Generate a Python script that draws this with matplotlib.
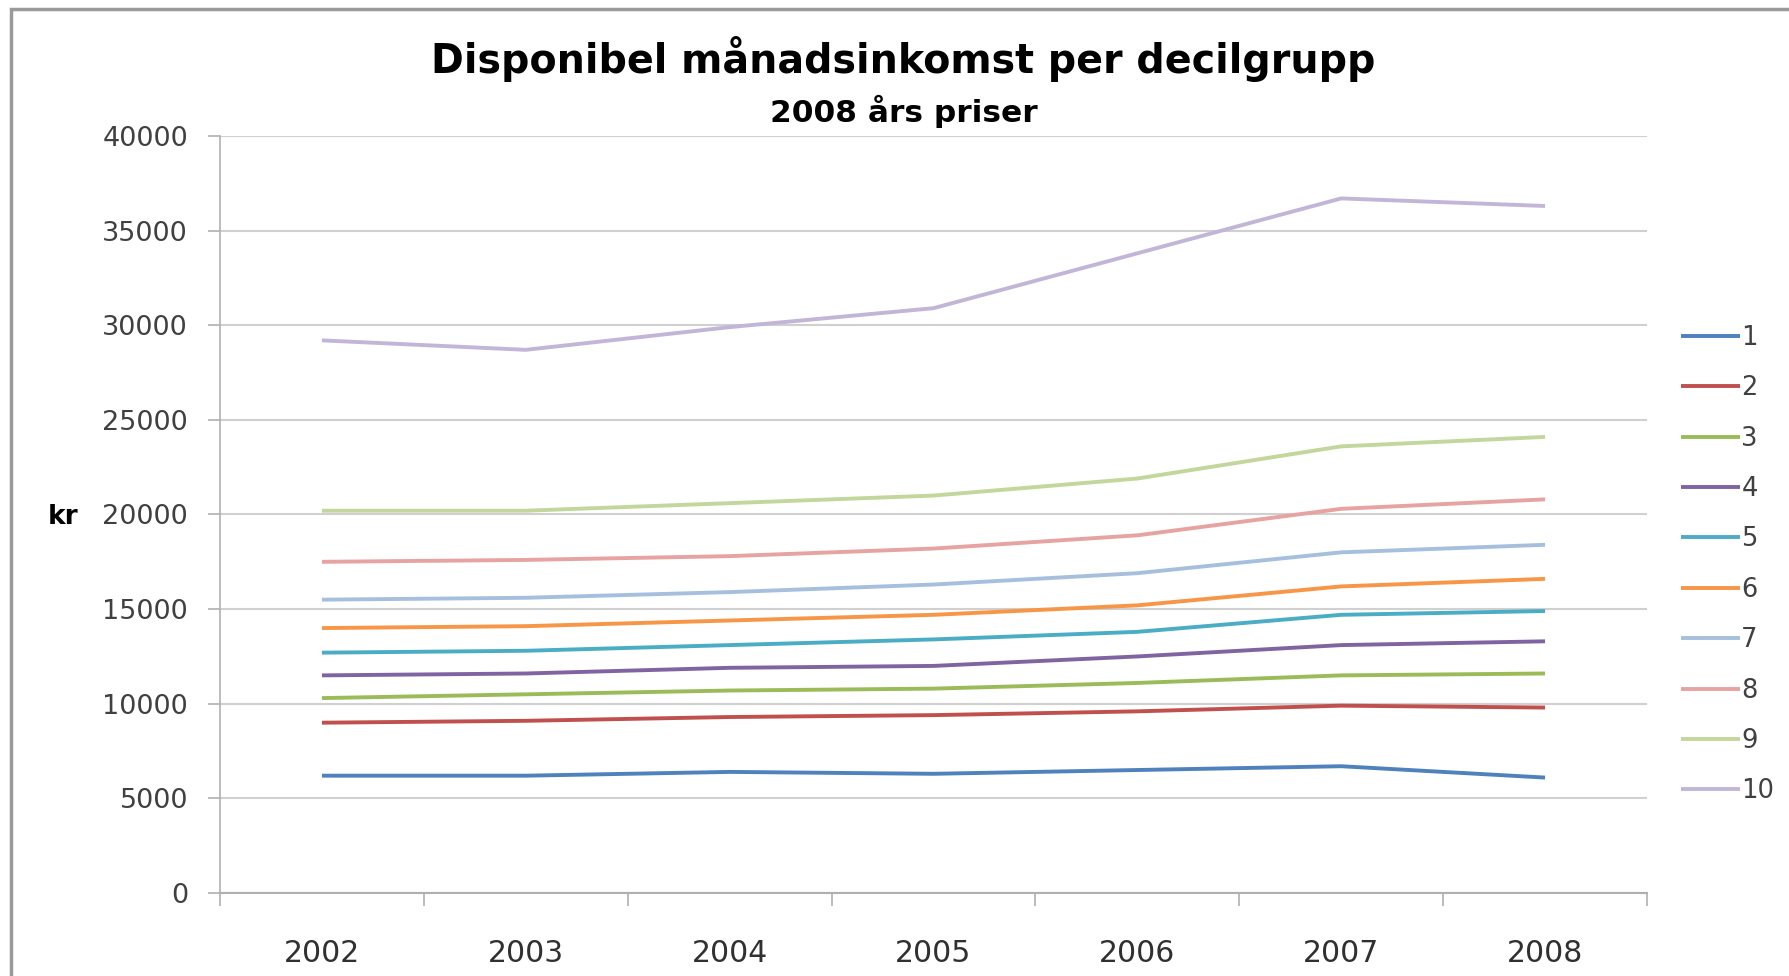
import numpy as np
import matplotlib
matplotlib.use("Agg")
import matplotlib.pyplot as plt
from matplotlib.patches import Rectangle
from matplotlib.ticker import FixedLocator, NullFormatter

years = ["2002", "2003", "2004", "2005", "2006", "2007", "2008"]
groups = ["1", "2", "3", "4", "5", "6", "7", "8", "9", "10"]

d1 = [6200, 6200, 6400, 6300, 6500, 6700, 6100]
d2 = [9000, 9100, 9300, 9400, 9600, 9900, 9800]
d3 = [10300, 10500, 10700, 10800, 11100, 11500, 11600]
d4 = [11500, 11600, 11900, 12000, 12500, 13100, 13300]
d5 = [12700, 12800, 13100, 13400, 13800, 14700, 14900]
d6 = [14000, 14100, 14400, 14700, 15200, 16200, 16600]
d7 = [15500, 15600, 15900, 16300, 16900, 18000, 18400]
d8 = [17500, 17600, 17800, 18200, 18900, 20300, 20800]
d9 = [20200, 20200, 20600, 21000, 21900, 23600, 24100]
d10 = [29200, 28700, 29900, 30900, 33800, 36700, 36300]
series = [d1, d2, d3, d4, d5, d6, d7, d8, d9, d10]

colors = ["#4F81BD", "#C0504D", "#9BBB59", "#8064A2", "#4BACC6",
          "#F79646", "#A7BFDE", "#E6A3A1", "#C3D69B", "#C3B5D8"]

fig = plt.figure(figsize=(17.89, 9.76), dpi=100)
ax = fig.add_axes([0.123, 0.085, 0.7976, 0.7757])

x = np.arange(len(years))
for vals, c, g in zip(series, colors, groups):
    ax.plot(x, vals, color=c, lw=2.8, label=g, solid_capstyle="butt")

ax.set_xlim(-0.5, len(years) - 0.5)
ax.set_ylim(0, 40000)
ax.set_yticks(np.arange(0, 40001, 5000))
ax.set_yticklabels([str(v) for v in range(0, 40001, 5000)],
                   fontsize=19.5, color="#404040")
ax.set_xticks(x)
ax.set_xticklabels(years, fontsize=21.5, color="#303030")
# tick marks sit between the categories, as in the original
ax.xaxis.set_minor_locator(FixedLocator(np.arange(-0.5, len(years), 1.0)))
ax.xaxis.set_minor_formatter(NullFormatter())
ax.tick_params(axis="x", which="major", length=0, pad=33)
ax.tick_params(axis="x", which="minor", length=9, color="#b0b0b0", width=1.2)
ax.tick_params(axis="y", length=9, color="#b0b0b0", width=1.2, pad=14)

ax.grid(axis="y", color="#d0d0d0", lw=1.5)
ax.set_axisbelow(True)
for s in ["top", "right"]:
    ax.spines[s].set_visible(False)
ax.spines["left"].set_color("#b0b0b0")
ax.spines["bottom"].set_color("#b0b0b0")
ax.spines["left"].set_linewidth(1.2)
ax.spines["bottom"].set_linewidth(1.5)

fig.text(0.035, 0.47, "kr", fontsize=19, fontweight="bold", ha="center", va="center")
fig.text(0.505, 0.94, "Disponibel månadsinkomst per decilgrupp",
         fontsize=28.5, fontweight="bold", ha="center", va="center")
fig.text(0.505, 0.886, "2008 års priser",
         fontsize=22.5, fontweight="bold", ha="center", va="center")

leg = ax.legend(loc="upper left", bbox_to_anchor=(0.995, 0.805), frameon=False,
                fontsize=18.5, handlelength=2.3, handletextpad=0.05,
                labelspacing=0.95, borderaxespad=1.2)
for t in leg.get_texts():
    t.set_color("#404040")

# chart frame
fig.patches.append(Rectangle((0.006, -0.05), 1.1, 0.041 + 1.0, transform=fig.transFigure,
                             fill=False, edgecolor="#9a9a9a", lw=2.5))

fig.savefig("out.png", dpi=100)
